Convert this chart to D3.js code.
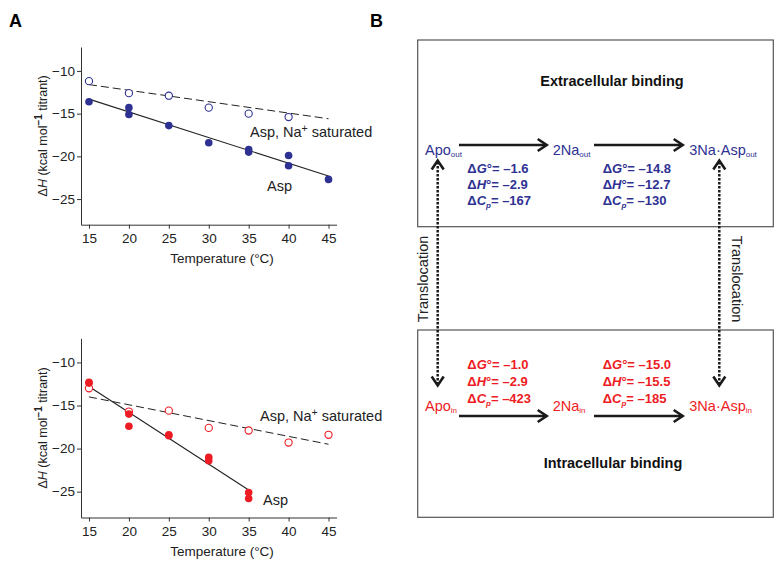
<!DOCTYPE html>
<html><head><meta charset="utf-8">
<script src="https://cdn.jsdelivr.net/npm/d3@7"></script>
<style>
body{margin:0;background:#fff}
text{font-family:"Liberation Sans",Arial,Helvetica,sans-serif}
</style>
</head><body>
<svg id="c" width="783" height="567"></svg>
<script>
// ---------- DATA ----------
const xTicks = [15, 20, 25, 30, 35, 40, 45];
const yTicks = [-10, -15, -20, -25];

// Panel A top (extracellular, blue)
const outAspT = [15, 20, 20, 25, 30, 35, 35, 40, 40, 45];
const outAspV = [-13.6, -14.3, -15.1, -16.4, -18.4, -19.2, -19.5, -19.9, -21.1, -22.7];
const outSatT = [15, 20, 25, 30, 35, 40];
const outSatV = [-11.2, -12.6, -12.9, -14.3, -15.0, -15.4];
const outAspFitT = [15, 45], outAspFitV = [-13.3, -22.3];
const outSatFitT = [15, 45], outSatFitV = [-11.6, -15.6];

// Panel A bottom (intracellular, red)
const inAspT = [15, 15, 20, 20, 25, 25, 30, 30, 35, 35];
const inAspV = [-12.3, -12.4, -16.0, -17.4, -18.4, -18.5, -21.0, -21.4, -25.1, -25.8];
const inSatT = [15, 20, 25, 30, 35, 40, 45];
const inSatV = [-13.0, -15.7, -15.6, -17.6, -17.9, -19.3, -18.4];
const inAspFitT = [15, 35], inAspFitV = [-12.8, -24.8];
const inSatFitT = [15, 45], inSatFitV = [-14.0, -19.5];

// Panel B
const statesOut = [["Apo", "out"], ["2Na", "out"], ["3Na·Asp", "out"]];
const statesIn = [["Apo", "in"], ["2Na", "in"], ["3Na·Asp", "in"]];
const dGout = ["–1.6", "–14.8"], dHout = ["–2.9", "–12.7"], dCpOut = ["–167", "–130"];
const dGin = ["–1.0", "–15.0"], dHin = ["–2.9", "–15.5"], dCpIn = ["–423", "–185"];

const BLUE = "#2e3192", RED = "#ed1c24", AX = "#333";

const svg = d3.select("#c");

// rich text helper
function rich(sel, parts) {
  parts.forEach(p => {
    const t = sel.append("tspan").text(p.t);
    if (p.i) t.attr("font-style", "italic");
    if (p.b) t.attr("font-weight", "bold");
    if (p.sub) t.attr("font-size", p.fs || "8px").attr("dy", p.dy || 3);
    if (p.sup) t.attr("font-size", p.fs || "9px").attr("dy", p.dy || -5);
    if (p.reset) t.attr("dy", p.reset);
  });
  return sel;
}

// ---------- PANEL A ----------
const x = d3.scaleLinear().domain([14, 46]).range([81, 336.5]);

function panel(top, bottom, color, aspT, aspV, satT, satV, aFT, aFV, sFT, sFV, lab) {
  const y = d3.scaleLinear().domain([-28, -7.2]).range([bottom, top]);
  const g = svg.append("g");
  const ax = g.append("g").attr("transform", `translate(0,${bottom})`)
    .call(d3.axisBottom(x).tickValues(xTicks).tickSize(4).tickPadding(5).tickSizeOuter(0));
  const ay = g.append("g").attr("transform", `translate(81,0)`)
    .call(d3.axisLeft(y).tickValues(yTicks).tickSize(4).tickPadding(2).tickSizeOuter(0)
      .tickFormat(d => "−" + Math.abs(d)));
  [ax, ay].forEach(a => {
    a.selectAll("path,line").attr("stroke", AX);
    a.selectAll("text").attr("font-size", "13.5px").attr("fill", "#222")
      .attr("font-family", '"Liberation Sans",Arial,sans-serif');
  });
  // fit lines
  const line = d3.line().x(d => x(d[0])).y(d => y(d[1]));
  g.append("path").attr("d", line(d3.zip(sFT, sFV))).attr("fill", "none")
    .attr("stroke", "#222").attr("stroke-width", 1).attr("stroke-dasharray", "8,4");
  g.append("path").attr("d", line(d3.zip(aFT, aFV))).attr("fill", "none")
    .attr("stroke", "#222").attr("stroke-width", 1.1);
  // points
  g.selectAll(".sat").data(d3.zip(satT, satV)).join("circle")
    .attr("cx", d => x(d[0])).attr("cy", d => y(d[1])).attr("r", 3.6)
    .attr("fill", "#fff").attr("stroke", color).attr("stroke-width", 1.1);
  g.selectAll(".asp").data(d3.zip(aspT, aspV)).join("circle")
    .attr("cx", d => x(d[0])).attr("cy", d => y(d[1])).attr("r", 3.8)
    .attr("fill", color);
  // axis labels
  g.append("text").attr("x", 222).attr("y", bottom + 38).attr("text-anchor", "middle")
    .attr("font-size", "13.5px").attr("fill", "#222").text("Temperature (°C)");
  const yl = g.append("text").attr("transform", `translate(47,${(top + bottom) / 2}) rotate(-90)`)
    .attr("text-anchor", "middle").attr("font-size", "12.5px").attr("fill", "#222");
  rich(yl, [{t: "Δ"}, {t: "H", i: 1}, {t: " (kcal mol"}, {t: "−1", sup: 1, b: 1, fs: "10px", dy: -5},
    {t: " titrant)", reset: 5}]);
  // series labels
  const l1 = g.append("text").attr("x", lab[0]).attr("y", lab[1]).attr("font-size", "14.5px").attr("fill", "#222");
  rich(l1, [{t: "Asp, Na"}, {t: "+", sup: 1, fs: "10.5px", dy: -5}, {t: " saturated", reset: 5}]);
  g.append("text").attr("x", lab[2]).attr("y", lab[3]).attr("font-size", "14.5px").attr("fill", "#222").text("Asp");
}

panel(47, 224.7, BLUE, outAspT, outAspV, outSatT, outSatV, outAspFitT, outAspFitV, outSatFitT, outSatFitV,
  [250, 137, 267, 191]);
panel(338.3, 517.5, RED, inAspT, inAspV, inSatT, inSatV, inAspFitT, inAspFitV, inSatFitT, inSatFitV,
  [260, 421, 263, 505]);

svg.append("text").attr("x", 9).attr("y", 27).attr("font-size", "18px").attr("font-weight", "bold").text("A");
svg.append("text").attr("x", 370).attr("y", 27).attr("font-size", "18px").attr("font-weight", "bold").text("B");

// ---------- PANEL B ----------
const bx0 = 417.7, bx1 = 773.3;
svg.append("rect").attr("x", bx0).attr("y", 40).attr("width", bx1 - bx0).attr("height", 186.7)
  .attr("fill", "none").attr("stroke", "#555").attr("stroke-width", 1.2);
svg.append("rect").attr("x", bx0).attr("y", 330).attr("width", bx1 - bx0).attr("height", 187.3)
  .attr("fill", "none").attr("stroke", "#555").attr("stroke-width", 1.2);

svg.append("text").attr("x", 612).attr("y", 86).attr("text-anchor", "middle").attr("font-size", "14.5px")
  .attr("font-weight", "bold").attr("fill", "#111").text("Extracellular binding");
svg.append("text").attr("x", 613).attr("y", 468).attr("text-anchor", "middle").attr("font-size", "14.5px")
  .attr("font-weight", "bold").attr("fill", "#111").text("Intracellular binding");

const stateX = [425, 552.7, 689.3];
function states(list, yb, color) {
  list.forEach((s, i) => {
    const t = svg.append("text").attr("x", stateX[i]).attr("y", yb).attr("font-size", "14.5px").attr("fill", color);
    rich(t, [{t: s[0]}, {t: s[1], sub: 1, fs: "8px", dy: 2}]);
  });
}
states(statesOut, 155, BLUE);
states(statesIn, 410.5, RED);

const valX = [467.3, 602.7];
function vals(G, H, C, ys, color) {
  [0, 1].forEach(i => {
    const mk = yy => svg.append("text").attr("x", valX[i]).attr("y", yy).attr("font-size", "13px")
      .attr("font-weight", "bold").attr("fill", color);
    rich(mk(ys[0]), [{t: "Δ"}, {t: "G", i: 1}, {t: "°= " + G[i]}]);
    rich(mk(ys[1]), [{t: "Δ"}, {t: "H", i: 1}, {t: "°= " + H[i]}]);
    rich(mk(ys[2]), [{t: "Δ"}, {t: "C", i: 1}, {t: "p", i: 1, sub: 1, fs: "8px", dy: 3}, {t: "= " + C[i], reset: -3}]);
  });
}
vals(dGout, dHout, dCpOut, [172.5, 188.5, 204.5], BLUE);
vals(dGin, dHin, dCpIn, [369, 386, 402.5], RED);

// arrows
function head(x0, y0, dx, dy, w) {
  const L = 9, W = 6;
  const px = -dy, py = dx;
  const p = d3.path();
  p.moveTo(x0 - dx * L + px * W, y0 - dy * L + py * W);
  p.lineTo(x0, y0);
  p.lineTo(x0 - dx * L - px * W, y0 - dy * L - py * W);
  svg.append("path").attr("d", p.toString()).attr("fill", "none").attr("stroke", "#1a1a1a")
    .attr("stroke-width", w).attr("stroke-linejoin", "miter");
}
const arrowX = [[459, 546.7], [594, 682.7]];
[145, 416].forEach(ay => {
  arrowX.forEach(a => {
    svg.append("line").attr("x1", a[0]).attr("x2", a[1] - 1.5).attr("y1", ay).attr("y2", ay)
      .attr("stroke", "#1a1a1a").attr("stroke-width", 2.4);
    head(a[1], ay, 1, 0, 2.6);
  });
});
// dotted translocation arrows
[437.7, 719.3].forEach(vx => {
  svg.append("line").attr("x1", vx).attr("x2", vx).attr("y1", 162).attr("y2", 384)
    .attr("stroke", "#1a1a1a").attr("stroke-width", 2.5).attr("stroke-dasharray", "2.5,1.5");
  head(vx, 160.5, 0, -1, 2.6);
  head(vx, 385.5, 0, 1, 2.6);
});
svg.append("text").attr("transform", "translate(427.5,279) rotate(-90)").attr("text-anchor", "middle")
  .attr("font-size", "14.5px").attr("fill", "#222").text("Translocation");
svg.append("text").attr("transform", "translate(731.5,279) rotate(90)").attr("text-anchor", "middle")
  .attr("font-size", "14.5px").attr("fill", "#222").text("Translocation");
</script>
</body></html>
